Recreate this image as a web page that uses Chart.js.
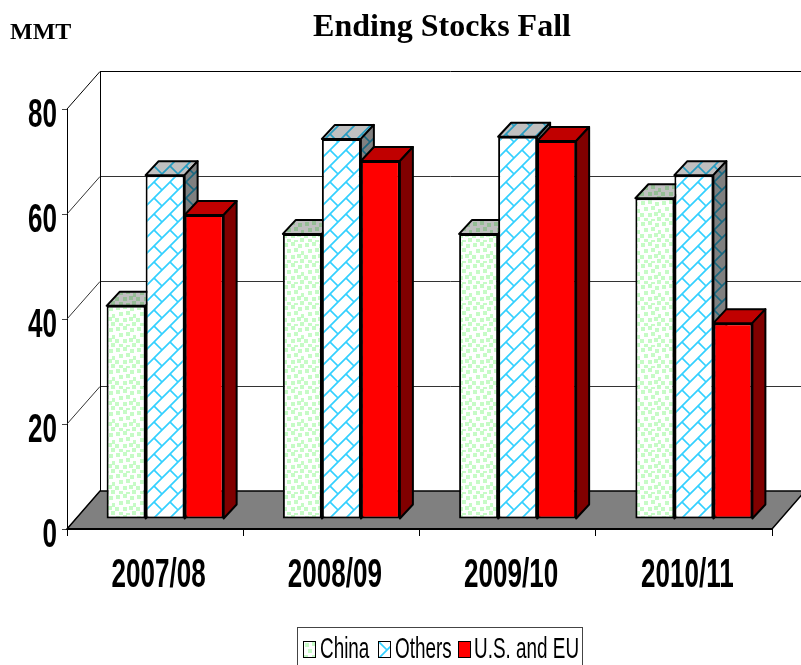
<!DOCTYPE html>
<html>
<head>
<meta charset="utf-8">
<title>Ending Stocks Fall</title>
<script src="https://cdn.jsdelivr.net/npm/chart.js@4"></script>
<style>
  body { margin: 0; background: #fff; }
  #wrap { position: relative; width: 801px; height: 665px; overflow: hidden; }
  #title { position: absolute; left: 242px; width: 400px; top: 7px; text-align: center;
    font: bold 32px "Liberation Serif", serif; }
  #unit { position: absolute; left: 10px; top: 18px; font: bold 24px "Liberation Serif", serif; }
  #legend { position: absolute; left: 297px; top: 627px; width: 284px; height: 60px; border: 1px solid #444; }
  #legend canvas { position: absolute; top: 13px; border: 1px solid #000; }
  #legend span { position: absolute; top: 3px; font: 30px "Liberation Sans", sans-serif; white-space: nowrap;
    transform: scaleX(0.63); transform-origin: 0 0; }
</style>
</head>
<body>
<div id="wrap">
  <canvas id="chart" width="801" height="665"></canvas>
  <div id="title">Ending Stocks Fall</div>
  <div id="unit">MMT</div>
  <div id="legend"></div>
</div>
<script>
const categories = ['2007/08', '2008/09', '2009/10', '2010/11'];
const china = [40.6, 54.3, 54.3, 61.1];
const others = [65.5, 72.4, 72.8, 65.5];
const usEu = [57.9, 68.2, 72.0, 37.3];
const yTicks = [0, 20, 40, 60, 80];

// depth of the floor and of the bars, in px
const wallX = 33, wallY = 38;
const barX = 13, barY = 14;
const barShift = 10;
const squeeze = 0.635;

function makeTile(size, paint) {
  const c = document.createElement('canvas');
  c.width = c.height = size;
  const g = c.getContext('2d');
  g.fillStyle = '#fff';
  g.fillRect(0, 0, size, size);
  paint(g, size);
  return c;
}

const dotTile = makeTile(21, (g) => {
  g.fillStyle = '#c6fbc6';
  [[1, 1], [8, 0], [15, 2], [4, 7], [11, 6], [18, 9], [0, 13], [8, 13], [14, 12], [4, 18], [11, 19], [17, 17]].forEach(([x, y]) => {
    g.fillRect(x, y, 4, 4);
  });
});

const brickTile = makeTile(16, (g, s) => {
  g.strokeStyle = '#33d0ff';
  g.lineWidth = 1.7;
  g.beginPath();
  g.moveTo(-2, s + 2); g.lineTo(s + 2, -2);
  g.moveTo(-2, 2); g.lineTo(2, -2);
  g.moveTo(s - 2, s + 2); g.lineTo(s + 2, s - 2);
  g.moveTo(-1, -1); g.lineTo(s / 2, s / 2);
  g.stroke();
});

const ctx = document.getElementById('chart').getContext('2d');
const dotFill = ctx.createPattern(dotTile, 'repeat');
const brickFill = ctx.createPattern(brickTile, 'repeat');

function poly(c, pts) {
  c.beginPath();
  pts.forEach(([x, y], i) => (i ? c.lineTo(x, y) : c.moveTo(x, y)));
  c.closePath();
}

// back wall, floor and the diagonals at each tick
const wallPlugin = {
  id: 'wall',
  beforeDatasetsDraw(chart) {
    const c = chart.ctx;
    const { x, y } = chart.scales;
    const l = x.left, r = x.right, b = y.getPixelForValue(0), t = y.getPixelForValue(80);
    c.save();
    c.lineWidth = 1;
    yTicks.forEach((v) => {
      const py = y.getPixelForValue(v);
      const backY = Math.round(py - wallY) + 0.5;
      c.strokeStyle = v === 0 || v === 80 ? '#000' : '#333';
      c.beginPath();
      c.moveTo(l, py);
      c.lineTo(l + wallX, backY);
      if (v > 0) c.lineTo(801, backY);
      c.stroke();
    });
    c.strokeStyle = '#000';
    c.beginPath();
    c.moveTo(l + wallX + 0.5, t - wallY);
    c.lineTo(l + wallX + 0.5, b - wallY);
    c.stroke();

    poly(c, [[l, b], [r, b], [r + wallX, b - wallY], [l + wallX, b - wallY]]);
    c.fillStyle = '#808080';
    c.fill();
    c.lineWidth = 1.5;
    c.stroke();
    c.lineWidth = 2;
    c.beginPath();
    c.moveTo(l, b);
    c.lineTo(r, b);
    c.stroke();
    c.restore();
  },
};

// The bars have to go left to right so each one covers its neighbour's side,
// so the default drawing (last dataset first) is turned off and done here.
const depthPlugin = {
  id: 'depth',
  beforeDatasetDraw() {
    return false;
  },
  afterDatasetsDraw(chart) {
    const c = chart.ctx;
    chart.data.datasets.forEach((ds, i) => {
      chart.getDatasetMeta(i).data.forEach((bar) => {
        const lft = bar.x - bar.width / 2, rgt = bar.x + bar.width / 2;
        const topFace = [[lft, bar.y], [lft + barX, bar.y - barY], [rgt + barX, bar.y - barY], [rgt, bar.y]];
        const sideFace = [[rgt, bar.y], [rgt + barX, bar.y - barY], [rgt + barX, bar.base - barY], [rgt, bar.base]];
        c.save();
        c.translate(barShift, -barShift);
        [[topFace, ds.topShade], [sideFace, ds.sideShade]].forEach(([face, shade]) => {
          poly(c, face);
          c.fillStyle = ds.backgroundColor;
          c.fill();
          c.globalCompositeOperation = 'multiply';
          c.fillStyle = shade;
          c.fill();
          c.globalCompositeOperation = 'source-over';
          c.lineWidth = 2;
          c.strokeStyle = '#000';
          c.lineJoin = 'round';
          c.stroke();
        });
        bar.draw(c);
        c.restore();
      });
    });
  },
};

// Tick labels are narrow bold type; no narrow face is installed, so squeeze it
const tickLabelPlugin = {
  id: 'tickLabels',
  afterDraw(chart) {
    const c = chart.ctx;
    const { x, y } = chart.scales;
    c.save();
    c.fillStyle = '#000';
    c.font = 'bold 41px "Liberation Sans", sans-serif';
    c.textBaseline = 'middle';
    x.ticks.forEach((tick, i) => {
      c.save();
      c.translate(x.getPixelForTick(i) + 3.5, 575.5);
      c.scale(squeeze, 1);
      c.textAlign = 'center';
      c.fillText(tick.label, 0, 0);
      c.restore();
    });
    y.ticks.forEach((tick, i) => {
      c.save();
      c.translate(57, y.getPixelForTick(i) + 6.5);
      c.scale(squeeze, 1);
      c.textAlign = 'right';
      c.fillText(tick.label, 0, 0);
      c.restore();
    });
    c.restore();
  },
};

new Chart(ctx, {
  type: 'bar',
  data: {
    labels: categories,
    datasets: [
      { label: 'China', data: china, backgroundColor: dotFill, topShade: '#c0c0c0', sideShade: '#808080' },
      { label: 'Others', data: others, backgroundColor: brickFill, topShade: '#c0c0c0', sideShade: '#808080' },
      { label: 'U.S. and EU', data: usEu, backgroundColor: '#ff0000', topShade: '#c00000', sideShade: '#800000' },
    ],
  },
  plugins: [wallPlugin, depthPlugin, tickLabelPlugin],
  options: {
    responsive: false,
    animation: false,
    layout: { padding: { top: 109, right: 29, left: 0, bottom: 0 } },
    plugins: { legend: { display: false }, title: { display: false }, tooltip: { enabled: false } },
    datasets: { bar: { barPercentage: 1, categoryPercentage: 0.664, borderWidth: 2, borderColor: '#000', borderSkipped: false } },
    scales: {
      x: {
        afterFit: (s) => { s.height = 136; },
        grid: { drawOnChartArea: false, color: '#000', tickLength: 7 },
        border: { color: '#000', width: 1 },
        ticks: { display: false },
      },
      y: {
        min: 0,
        max: 80,
        afterFit: (s) => { s.width = 67; },
        afterBuildTicks: (s) => { s.ticks = yTicks.map((value) => ({ value, label: String(value) })); },
        grid: { drawOnChartArea: false, color: '#444', tickLength: 5 },
        border: { color: '#000', width: 1 },
        ticks: { display: false },
      },
    },
  },
});

// legend, with the same fills as the bars
const legend = document.getElementById('legend');
[['China', dotTile, 5, 22], ['Others', brickTile, 80, 97], ['U.S. and EU', null, 160, 176]].forEach(([name, tile, boxLeft, textLeft]) => {
  const swatch = document.createElement('canvas');
  swatch.width = 11;
  swatch.height = 15;
  swatch.style.left = boxLeft + 'px';
  const g = swatch.getContext('2d');
  g.fillStyle = tile ? g.createPattern(tile, 'repeat') : '#ff0000';
  g.fillRect(0, 0, 11, 15);
  legend.appendChild(swatch);
  const text = document.createElement('span');
  text.style.left = textLeft + 'px';
  text.textContent = name;
  legend.appendChild(text);
});
</script>
</body>
</html>
